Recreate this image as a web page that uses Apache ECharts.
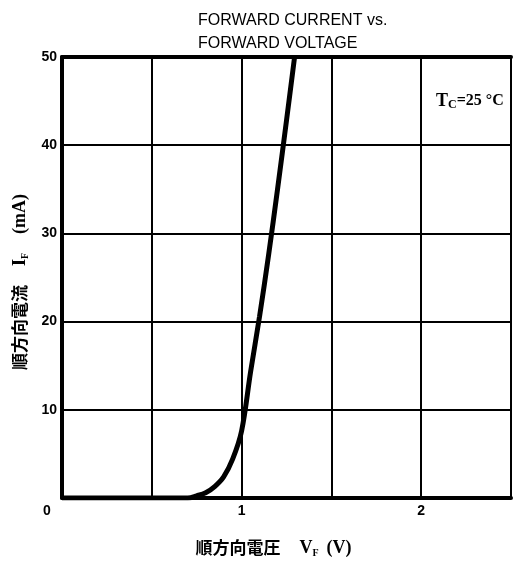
<!DOCTYPE html>
<html>
<head>
<meta charset="utf-8">
<script src="https://cdn.jsdelivr.net/npm/echarts@6/dist/echarts.min.js"></script>
<style>
html,body{margin:0;padding:0;background:#fff;}
#c{width:514px;height:563px;}
</style>
</head>
<body>
<div id="c"></div>
<script>
// Data
const voltage = [0, 0.70, 0.75, 0.80, 0.85, 0.90, 0.95, 1.00, 1.05, 1.10, 1.15, 1.20, 1.25, 1.295];
const current = [0, 0, 0.25, 0.6, 1.3, 2.4, 4.4, 7.6, 14.3, 20.6, 27.5, 35.0, 42.8, 50.0];
const xTickLabels = {0: '0', 1: '1', 2: '2'};
const yTickLabels = {10: '10', 20: '20', 30: '30', 40: '40', 50: '50'};
const titleLines = ['FORWARD CURRENT vs.', 'FORWARD VOLTAGE'];

const curve = voltage.map((v, i) => [v, current[i]]);
const labelFont = 'Liberation Sans';
const serif = 'Liberation Serif';
const cjk = '"Noto Sans CJK JP"';

const nameRich = {
  v: {fontFamily: serif, fontSize: 18, fontWeight: 'bold', color: '#000', lineHeight: 20},
  s: {fontFamily: serif, fontSize: 10, fontWeight: 'bold', color: '#000', verticalAlign: 'bottom', lineHeight: 20},
  p: {fontFamily: serif, fontSize: 18, fontWeight: 'bold', color: '#000', lineHeight: 20},
  g1: {width: 19, lineHeight: 20},
  g2: {width: 8, lineHeight: 20},
  g3: {width: 19, lineHeight: 20}
};

const chart = echarts.init(document.getElementById('c'), null, {renderer: 'canvas'});
chart.setOption({
  backgroundColor: '#fff',
  animation: false,
  title: [{
    text: titleLines.join('\n'),
    left: 193, top: 4,
    textStyle: {fontFamily: labelFont, fontSize: 16, fontWeight: 'normal', color: '#000', lineHeight: 23}
  }, {
    text: '{t|T}{c|C}{e|=25 °C}',
    left: 431, top: 86,
    textStyle: {
      rich: {
        t: {fontFamily: serif, fontSize: 18, fontWeight: 'bold', color: '#000', lineHeight: 20},
        c: {fontFamily: serif, fontSize: 12, fontWeight: 'bold', color: '#000', verticalAlign: 'bottom', lineHeight: 20},
        e: {fontFamily: serif, fontSize: 16, fontWeight: 'bold', color: '#000', lineHeight: 20}
      }
    }
  }],
  grid: {left: 62, right: 2, top: 57, bottom: 56, containLabel: false},
  xAxis: [{
    type: 'value', min: 0, max: 2.5, interval: 0.5,
    axisLine: {show: true, onZero: false, lineStyle: {color: '#000', width: 4}},
    axisTick: {show: false},
    splitLine: {show: true, lineStyle: {color: '#000', width: 2}},
    axisLabel: {
      margin: 6,
      formatter: v => {
        const s = xTickLabels[Math.round(v * 10) / 10];
        if (s === undefined) return '';
        return v === 0 ? '{z|' + s + '}' : '{n|' + s + '}';
      },
      rich: {
        z: {fontFamily: labelFont, fontSize: 14, fontWeight: 'bold', color: '#000', padding: [0, 30, 0, 0]},
        n: {fontFamily: labelFont, fontSize: 14, fontWeight: 'bold', color: '#000'}
      }
    },
    name: '順方向電圧{g1| }{v|V}{s|F}{g2| }{p|(V)}',
    nameLocation: 'middle', nameGap: 40,
    nameTextStyle: {
      fontFamily: cjk, fontSize: 17, fontWeight: 'bold', color: '#000', padding: [0, 26, 0, 0],
      rich: nameRich
    }
  }, {
    type: 'value', position: 'top', min: 0, max: 2.5, interval: 0.5,
    axisLine: {show: true, onZero: false, lineStyle: {color: '#000', width: 4}},
    axisTick: {show: false}, axisLabel: {show: false}, splitLine: {show: false}
  }],
  yAxis: [{
    type: 'value', min: 0, max: 50, interval: 10,
    axisLine: {show: true, onZero: false, lineStyle: {color: '#000', width: 4}},
    axisTick: {show: false},
    splitLine: {show: true, lineStyle: {color: '#000', width: 2}},
    axisLabel: {
      margin: 5,
      fontFamily: labelFont, fontSize: 14, fontWeight: 'bold', color: '#000',
      formatter: v => yTickLabels[v] || ''
    },
    name: '順方向電流{g1| }{v|I}{s|F}{g3| }{p|(mA)}',
    nameLocation: 'middle', nameGap: 32,
    nameTextStyle: {
      fontFamily: cjk, fontSize: 17, fontWeight: 'bold', color: '#000', padding: [0, 9, 0, 0],
      rich: nameRich
    }
  }, {
    type: 'value', position: 'right', min: 0, max: 50, interval: 10,
    axisLine: {show: true, onZero: false, lineStyle: {color: '#000', width: 2}},
    axisTick: {show: false}, axisLabel: {show: false}, splitLine: {show: false}
  }],
  series: [{
    type: 'line',
    data: curve,
    xAxisIndex: 0, yAxisIndex: 0,
    smooth: 0.35,
    showSymbol: false,
    lineStyle: {color: '#000', width: 5},
    clip: true
  }]
});
</script>
</body>
</html>
